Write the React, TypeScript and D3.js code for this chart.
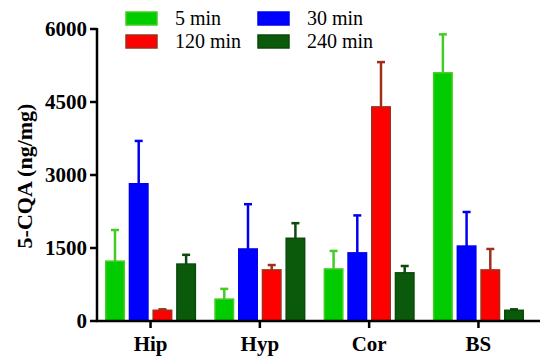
import React from "react";
import * as d3 from "d3";

const categories = ["Hip", "Hyp", "Cor", "BS"];
const seriesNames = ["5 min", "30 min", "120 min", "240 min"];
const means5 = [1230, 450, 1070, 5100];
const err5 = [1870, 660, 1440, 5890];
const means30 = [2820, 1480, 1400, 1540];
const err30 = [3700, 2400, 2170, 2240];
const means120 = [220, 1050, 4400, 1050];
const err120 = [240, 1150, 5320, 1480];
const means240 = [1170, 1700, 990, 220];
const err240 = [1360, 2010, 1130, 240];
const yTicks = [0, 1500, 3000, 4500, 6000];

const fills = ["#00cc00", "#0000ff", "#ff0000", "#0b5a0b"];
const strokes = ["#44cc22", "#0000ee", "#a0301a", "#0b4a0b"];

export default function App() {
  const W = 550, H = 363;
  const left = 97, bottom = 321, right = 540, top = 29;
  const y = d3.scaleLinear().domain([0, 6000]).range([bottom, top]);
  const x = d3.scaleBand().domain(categories).range([left + 0, right - 8]).paddingInner(0.18).paddingOuter(0.08);
  const inner = d3.scaleBand().domain(seriesNames).range([0, x.bandwidth()]).paddingInner(0.22);
  const means = [means5, means30, means120, means240];
  const errs = [err5, err30, err120, err240];
  const font = "Liberation Serif, serif";
  const legend = [
    { name: "5 min", idx: 0, lx: 126, ly: 12 },
    { name: "120 min", idx: 2, lx: 126, ly: 35 },
    { name: "30 min", idx: 1, lx: 258, ly: 12 },
    { name: "240 min", idx: 3, lx: 258, ly: 35 },
  ];
  const ts = { fontFamily: font };
  return (
    <svg width={W} height={H} style={{ position: "absolute", left: 0, top: 0, background: "#fff", fontFamily: font }}>
      {seriesNames.map((s, si) => (
        <g key={s}>
          {categories.map((c, ci) => {
            const bx = (x(c) as number) + (inner(s) as number);
            const bw = inner.bandwidth();
            const cx = bx + bw / 2;
            const yt = y(means[si][ci]);
            const ye = y(errs[si][ci]);
            return (
              <g key={c}>
                <line x1={cx} x2={cx} y1={yt} y2={ye} stroke={strokes[si]} strokeWidth={2.5} />
                <line x1={cx - 4} x2={cx + 4} y1={ye} y2={ye} stroke={strokes[si]} strokeWidth={2.5} />
                <rect x={bx} y={yt} width={bw} height={bottom - yt} fill={fills[si]} stroke={strokes[si]} strokeWidth={1.5} />
              </g>
            );
          })}
        </g>
      ))}
      <line x1={left} x2={left} y1={top - 1} y2={bottom + 1} stroke="#000" strokeWidth={2.5} />
      {yTicks.map((t) => (
        <g key={t}>
          <line x1={left - 7} x2={left} y1={y(t)} y2={y(t)} stroke="#000" strokeWidth={2.5} />
          <text style={ts} x={left - 10} y={y(t)} dy="0.35em" textAnchor="end" fontWeight="bold" fontSize={21}>{t}</text>
        </g>
      ))}
      <line x1={left - 1} x2={right} y1={bottom} y2={bottom} stroke="#000" strokeWidth={2.5} />
      {categories.map((c) => {
        const cx = (x(c) as number) + x.bandwidth() / 2;
        return (
          <g key={c}>
            <line x1={cx} x2={cx} y1={bottom} y2={bottom + 7} stroke="#000" strokeWidth={2.5} />
            <text style={ts} x={cx} y={bottom + 30} textAnchor="middle" fontWeight="bold" fontSize={21}>{c}</text>
          </g>
        );
      })}
      <text style={ts} transform={`translate(32,176) rotate(-90)`} textAnchor="middle" fontWeight="bold" fontSize={22}>5-CQA (ng/mg)</text>
      {legend.map((l) => (
        <g key={l.name}>
          <rect x={l.lx} y={l.ly} width={31} height={13} fill={fills[l.idx]} stroke={strokes[l.idx]} strokeWidth={1.5} />
          <text style={ts} x={l.lx + 49} y={l.ly + 13} fontSize={20}>{l.name}</text>
        </g>
      ))}
    </svg>
  );
}
